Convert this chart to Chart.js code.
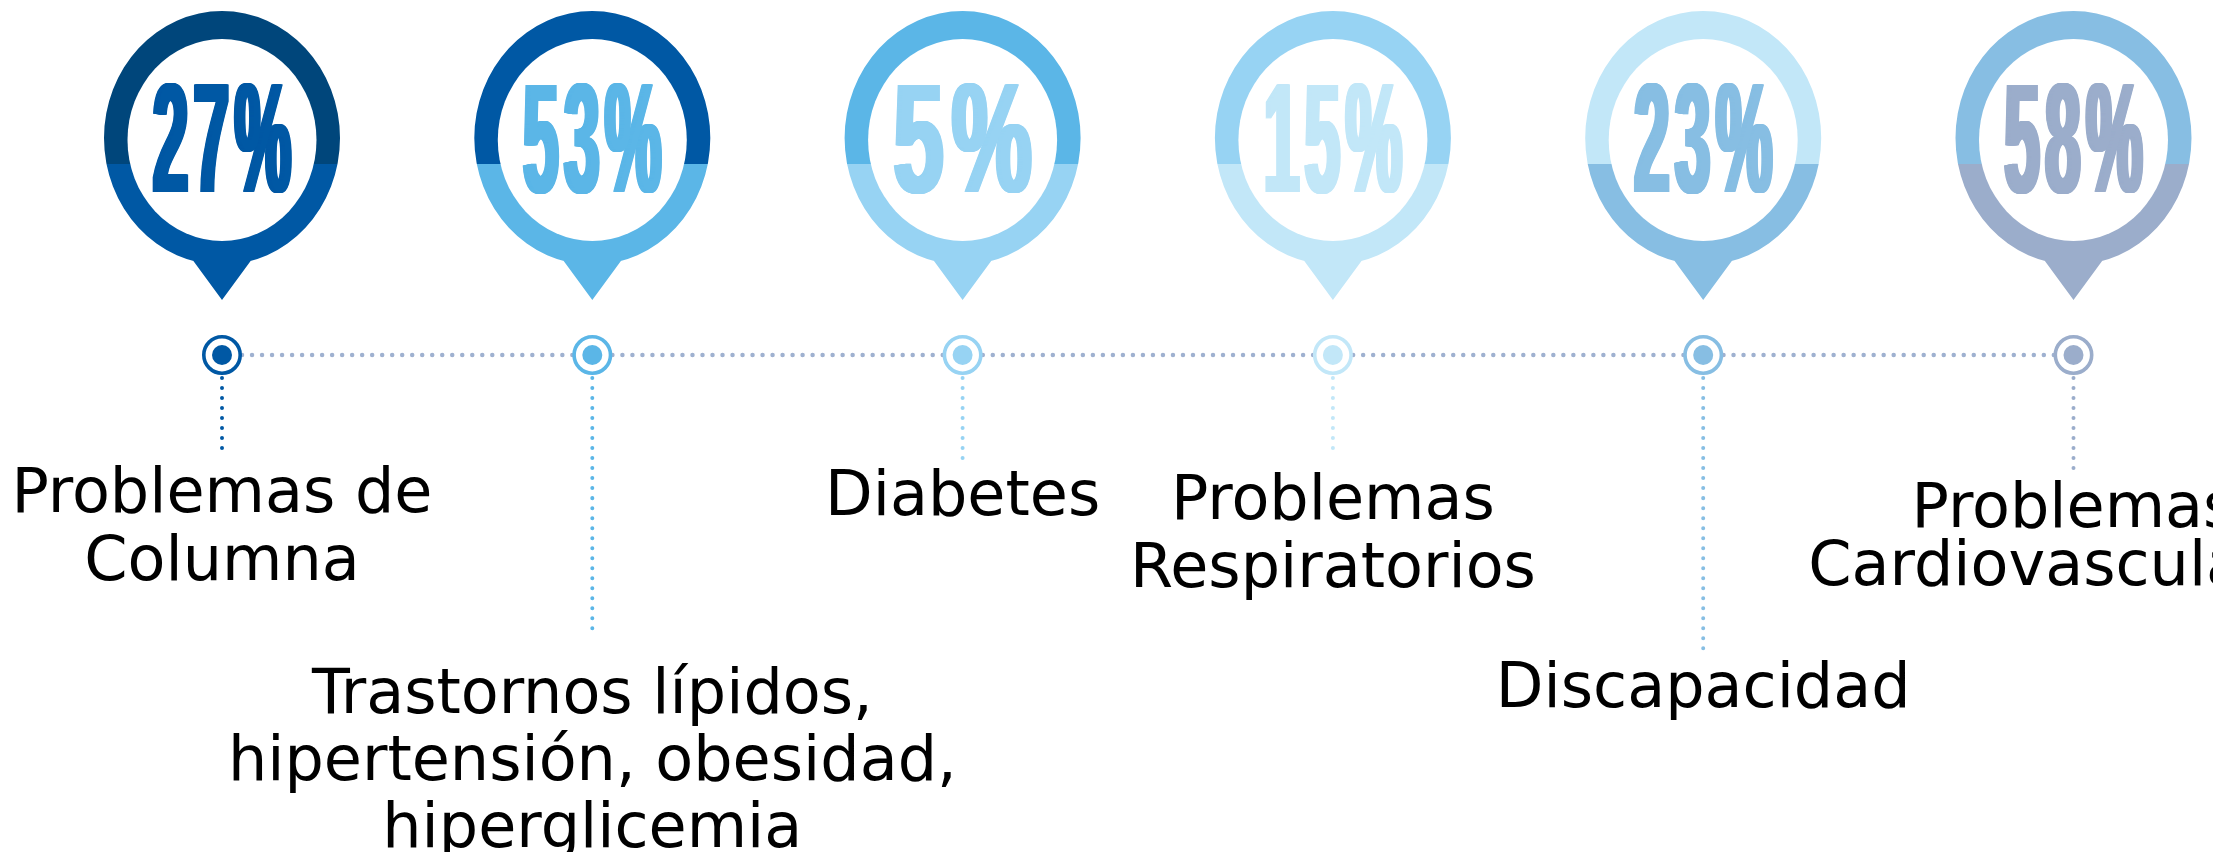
<!DOCTYPE html>
<html><head><meta charset="utf-8">
<script src="https://cdn.jsdelivr.net/npm/chart.js@4.4.1/dist/chart.umd.min.js"></script>
<style>html,body{margin:0;padding:0;background:#fff;overflow:hidden}#wrap{width:2213px;height:852px;position:relative}canvas{display:block}</style>
</head><body><div id="wrap"><canvas id="c" width="2213" height="852" style="width:2213px;height:852px"></canvas></div>
<script>
// ---- data ----
const categories = [
  ["Problemas de", "Columna"],
  ["Trastornos lípidos,", "hipertensión, obesidad,", "hiperglicemia"],
  ["Diabetes"],
  ["Problemas", "Respiratorios"],
  ["Discapacidad"],
  ["Problemas", "Cardiovasculares"]
];
const percentages = [27, 53, 5, 15, 23, 58];
const percentLabels = percentages.map(v => v + "%");

// ---- styles ----
const topColors    = ["#00467b", "#0058a4", "#5bb6e7", "#97d3f3", "#c2e7f8", "#87bee3"];
const bottomColors = ["#0058a4", "#5bb6e7", "#97d3f3", "#c2e7f8", "#87bee3", "#9badcb"];
const lineColor = "#9fb1d0";
// layout offsets (px, relative to the timeline row)
const connectorEnd  = [102, 282, 104, 102, 295, 115];
const firstBaseline = [157, 358, 160, 164, 352, 172];
const lineHeights   = [68, 67, 68, 68, 68, 58];

const pinPlugin = {
  id: "pins",
  afterDatasetsDraw(chart) {
    const ctx = chart.ctx;
    const xs = chart.scales.x, ys = chart.scales.y;
    const row = ys.getPixelForValue(0);
    categories.forEach((lines, i) => {
      const cx = xs.getPixelForValue(i);
      const cy = row - 217;          // outer ellipse center
      const split = row - 191;
      const outerPath = () => {
        ctx.beginPath();
        ctx.ellipse(cx, cy, 118, 127, 0, 0, Math.PI * 2);
        ctx.moveTo(cx - 33, row - 100);
        ctx.lineTo(cx + 33, row - 100);
        ctx.lineTo(cx, row - 55);
        ctx.closePath();
      };
      ctx.save();
      ctx.beginPath(); ctx.rect(cx - 140, 0, 280, split); ctx.clip();
      outerPath(); ctx.fillStyle = topColors[i]; ctx.fill("nonzero");
      ctx.restore();
      ctx.save();
      ctx.beginPath(); ctx.rect(cx - 140, split, 280, 200); ctx.clip();
      outerPath(); ctx.fillStyle = bottomColors[i]; ctx.fill("nonzero");
      ctx.restore();
      // inner white
      ctx.save();
      ctx.beginPath();
      ctx.ellipse(cx, row - 215, 94.5, 101, 0, 0, Math.PI * 2);
      ctx.fillStyle = "#ffffff"; ctx.fill();
      ctx.restore();
      // percent text, condensed to fit, with small gaps between glyphs
      ctx.save();
      ctx.font = "bold 156px 'Liberation Sans Narrow', 'Liberation Sans', sans-serif";
      ctx.textAlign = "left";
      ctx.textBaseline = "alphabetic";
      const chars = [...percentLabels[i]];
      const gap = 14;
      const cw = chars.map(c => ctx.measureText(c).width);
      const total = cw.reduce((a, b) => a + b, 0) + gap * (chars.length - 1);
      const sx = 138 / total;
      ctx.translate(cx, row - 163);
      ctx.scale(sx, 1);
      ctx.fillStyle = bottomColors[i];
      let x0 = -total / 2;
      chars.forEach((c, k) => {
        for (let o = -2.5; o <= 2.5; o += 0.5) ctx.fillText(c, x0 + o / sx, 0);
        x0 += cw[k] + gap;
      });
      ctx.restore();
      // vertical connector
      ctx.save();
      ctx.strokeStyle = bottomColors[i];
      ctx.lineWidth = 4;
      ctx.lineCap = "round";
      ctx.setLineDash([0.01, 10]);
      ctx.beginPath();
      ctx.moveTo(cx, row + 23);
      ctx.lineTo(cx, row + connectorEnd[i] + 0.5);
      ctx.stroke();
      ctx.restore();
      // label
      ctx.save();
      ctx.font = "62px 'DejaVu Sans', sans-serif";
      ctx.fillStyle = "#000";
      ctx.textAlign = "center";
      ctx.textBaseline = "alphabetic";
      lines.forEach((t, k) => ctx.fillText(t, cx, row + firstBaseline[i] + k * lineHeights[i]));
      ctx.restore();
    });
  }
};

const pts = categories.map((_, i) => ({ x: i, y: 0 }));
new Chart(document.getElementById("c"), {
  type: "scatter",
  data: {
    datasets: [
      { data: pts, pointRadius: 10, pointHoverRadius: 10, backgroundColor: bottomColors, borderWidth: 0, order: 1 },
      { data: pts, pointRadius: 18.2, pointHoverRadius: 18.2, backgroundColor: "#ffffff", borderColor: bottomColors, borderWidth: 3.6, order: 2 },
      { data: pts, showLine: true, pointRadius: 0, borderColor: lineColor, borderWidth: 4.5, borderDash: [0.01, 10], borderCapStyle: "round", order: 3 }
    ]
  },
  options: {
    responsive: false,
    maintainAspectRatio: false,
    animation: false,
    devicePixelRatio: 1,
    layout: { padding: 0, autoPadding: false },
    plugins: { legend: { display: false }, tooltip: { enabled: false }, title: { display: false } },
    events: [],
    scales: {
      x: { type: "linear", display: false, min: -222 / 370.3, max: (2213 - 222) / 370.3 },
      y: { type: "linear", display: false, min: -497, max: 355 }
    }
  },
  plugins: [pinPlugin]
});
</script>
</body></html>
